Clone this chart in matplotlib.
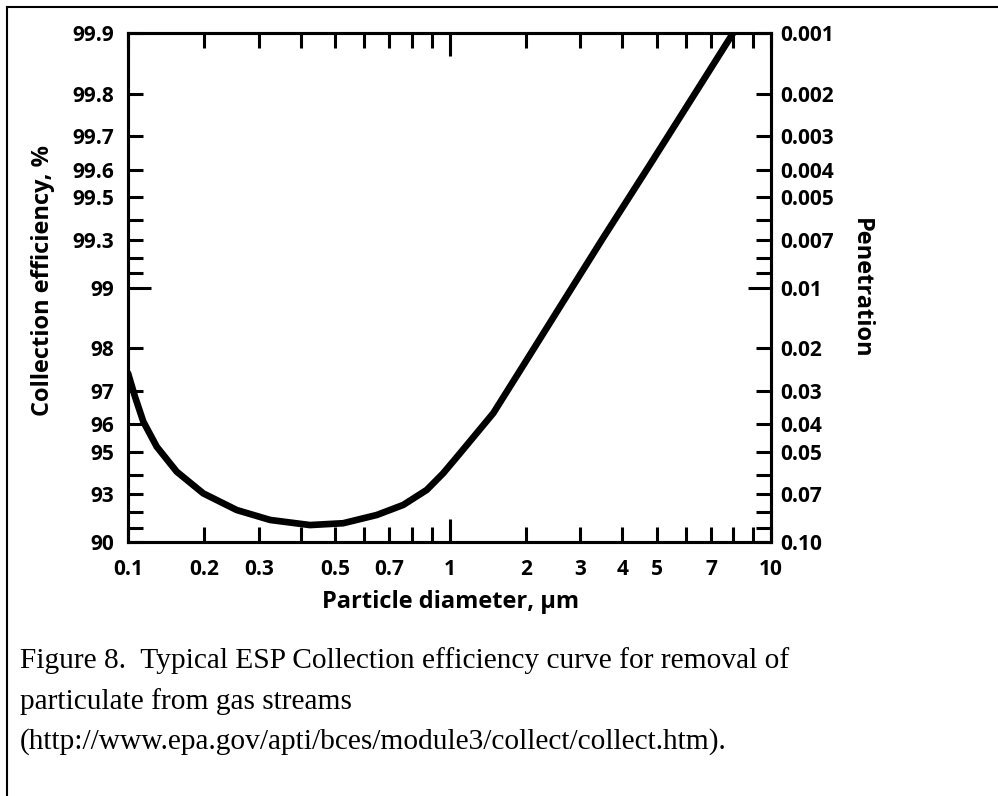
import matplotlib
matplotlib.use("Agg")
import matplotlib.pyplot as plt
from matplotlib.lines import Line2D
import numpy as np

# curve
diameter_um = [0.1, 0.1076, 0.1169, 0.1329, 0.159, 0.198, 0.256, 0.325, 0.425, 0.526,
               0.648, 0.761, 0.875, 0.964, 1.115, 1.523, 1.958, 2.536, 3.514, 4.79,
               6.16, 8.0]
efficiency_pct = [97.45, 96.84, 96.09, 95.19, 94.13, 93.06, 92.12, 91.51, 91.18, 91.30,
                  91.82, 92.42, 93.24, 94.06, 94.93, 96.36, 97.63, 98.65, 99.31, 99.617,
                  99.784, 99.9]

# tick positions and labels
x_ticks = [0.1, 0.2, 0.3, 0.4, 0.5, 0.6, 0.7, 0.8, 0.9, 2, 3, 4, 5, 6, 7, 8, 9, 10]
x_labels = ["0.1", "0.2", "0.3", "", "0.5", "", "0.7", "", "", "2", "3", "4", "5", "",
            "7", "", "", "10"]
pen_ticks = [0.001, 0.002, 0.003, 0.004, 0.005, 0.006, 0.007, 0.008, 0.009,
             0.02, 0.03, 0.04, 0.05, 0.06, 0.07, 0.08, 0.09, 0.1]
eff_labels = ["99.9", "99.8", "99.7", "99.6", "99.5", "", "99.3", "", "",
              "98", "97", "96", "95", "", "93", "", "", "90"]
pen_labels = ["0.001", "0.002", "0.003", "0.004", "0.005", "", "0.007", "", "",
              "0.02", "0.03", "0.04", "0.05", "", "0.07", "", "", "0.10"]

A = 1.0  # spacing parameter of the decade scale


def fwd(v):
    v = np.clip(np.asarray(v, dtype=float), 1e-12, None)
    d = np.floor(np.log10(v) + 1e-9)
    m = v / 10.0 ** d
    return d + np.log((m + A) / (1 + A)) / np.log((10 + A) / (1 + A))


def inv(t):
    t = np.asarray(t, dtype=float)
    d = np.floor(t)
    f = t - d
    m = (1 + A) * ((10 + A) / (1 + A)) ** f - A
    return m * 10.0 ** d


plt.rcParams['font.family'] = ['Open Sans', 'DejaVu Sans']
plt.rcParams['font.weight'] = 'bold'

W, H = 998, 796
fig = plt.figure(figsize=(W / 100, H / 100), dpi=100)
ax = fig.add_axes([128 / W, 1 - 542 / H, (771 - 128) / W, (542 - 33) / H])

penetration = 1 - np.array(efficiency_pct) / 100
ax.plot(diameter_um, penetration, color='black', lw=4.8, solid_capstyle='round',
        solid_joinstyle='round')

ax.set_xscale('function', functions=(fwd, inv))
ax.set_yscale('function', functions=(fwd, inv))
ax.set_xlim(0.1, 10)
ax.set_ylim(0.1, 0.001)

ax.set_xticks([1], labels=["1"])
ax.set_xticks(x_ticks, labels=x_labels, minor=True)
ax.set_yticks([0.01], labels=["99"])
ax.set_yticks(pen_ticks, labels=eff_labels, minor=True)

ax2 = ax.twinx()
ax2.set_yscale('function', functions=(fwd, inv))
ax2.set_ylim(0.1, 0.001)
ax2.set_yticks([0.01], labels=["0.01"])
ax2.set_yticks(pen_ticks, labels=pen_labels, minor=True)

for a in (ax, ax2):
    for s in a.spines.values():
        s.set_linewidth(2.2)
    a.tick_params(which='both', direction='in', width=2.2, labelsize=15)
    a.tick_params(which='minor', length=10.5)
    a.tick_params(which='major', length=16.5)
ax.tick_params(which='both', top=True, bottom=True, left=True, right=False)
ax.tick_params(axis='x', which='both', pad=12)
ax.tick_params(axis='y', which='both', pad=10)
ax2.tick_params(which='both', left=False, right=True, pad=7)

fig.text(43 / W, 1 - 281 / H, "Collection efficiency, %", rotation=90,
         ha='center', va='center', fontsize=17)
fig.text(861 / W, 1 - 288 / H, "Penetration", rotation=270,
         ha='center', va='center', fontsize=17)
fig.text(451 / W, 1 - 602 / H, "Particle diameter, \u00b5m",
         ha='center', va='center', fontsize=17)

caption = ["Figure 8.  Typical ESP Collection efficiency curve for removal of",
           "particulate from gas streams",
           "(http://www.epa.gov/apti/bces/module3/collect/collect.htm)."]
for i, line in enumerate(caption):
    fig.text(20 / W, 1 - (661 + 40.5 * i) / H, line, ha='left', va='center',
             fontsize=21.2, family='Liberation Serif', fontweight='normal')

# frame around the figure
fig.add_artist(Line2D([7 / W, 7 / W], [0, 1 - 7 / H], color='black', lw=1.5))
fig.add_artist(Line2D([7 / W, 1], [1 - 7 / H, 1 - 7 / H], color='black', lw=1.5))

fig.savefig('out.png', dpi=100)
